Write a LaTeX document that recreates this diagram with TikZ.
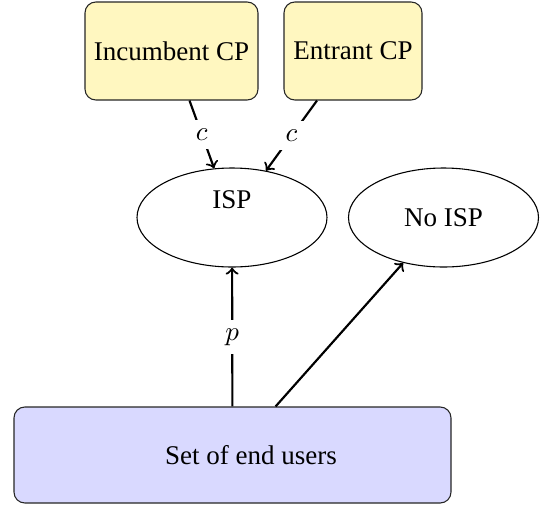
\documentclass[tikz,border=0pt]{standalone}
\usepackage{fontspec}
\setmainfont{Liberation Serif}
\usetikzlibrary{shapes.geometric}
\definecolor{cpyellow}{RGB}{255,247,192}
\definecolor{userblue}{RGB}{217,217,255}
\newcommand\pxu{0.37pt}
\begin{document}
\begin{tikzpicture}[x=0.37pt,y=-0.37pt,
  cpbox/.style={draw=black!85, fill=cpyellow, rounded corners=4pt, inner sep=0pt, minimum height=98*\pxu},
  ovalnode/.style={draw, ellipse, inner sep=0pt, minimum width=190*\pxu, minimum height=99*\pxu},
  userbox/.style={draw=black!85, fill=userblue, rounded corners=4pt, inner sep=0pt, minimum width=437*\pxu, minimum height=96*\pxu},
  link/.style={->, thick},
  lbl/.style={fill=white, midway}]
\useasboundingbox (0,0) rectangle (541,506);
\node[cpbox, minimum width=173*\pxu] (inc) at (171.5,51) {Incumbent CP};
\node[cpbox, minimum width=138*\pxu] (ent) at (353,51) {Entrant CP};
\node[ovalnode] (isp) at (232,217.5) {};
\node (isptext) at (232,200) {ISP};
\node[ovalnode] (noisp) at (443.5,217.5) {No ISP};
\node[userbox] (users) at (232.5,455) {};
\node (userstext) at (251,455) {Set of end users};
\draw[link] (inc) -- node[lbl]{$c$} (isp);
\draw[link] (ent) -- node[lbl]{$c$} (isp);
\draw[link] (users) -- node[lbl]{$p$} (isp);
\draw[link] (users) -- (noisp);
\end{tikzpicture}
\end{document}
